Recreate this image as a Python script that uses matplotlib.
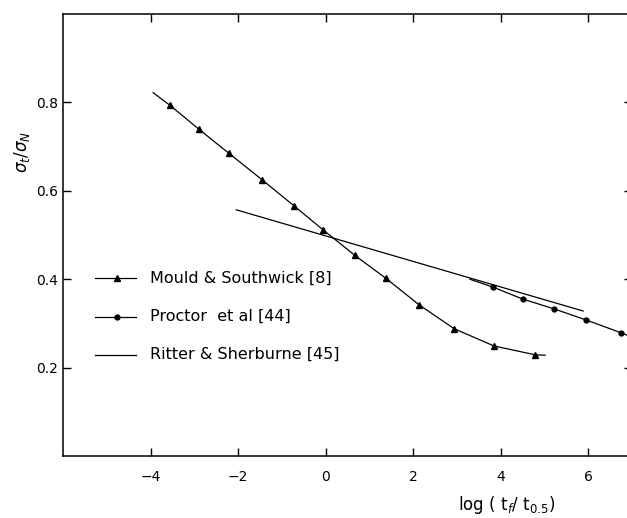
import matplotlib
matplotlib.use("Agg")
import matplotlib.pyplot as plt

# Mould & Southwick [8] (first/last entries are line ends without markers)
mould_x = [-3.94, -3.55, -2.89, -2.21, -1.45, -0.72, -0.06, 0.67, 1.38, 2.14, 2.94, 3.85, 4.79, 5.02]
mould_y = [0.822, 0.793, 0.739, 0.685, 0.625, 0.566, 0.512, 0.454, 0.402, 0.342, 0.288, 0.249, 0.229, 0.228]

# Proctor et al [44]
proctor_x = [3.30, 3.83, 4.51, 5.22, 5.95, 6.75, 6.95]
proctor_y = [0.400, 0.382, 0.355, 0.333, 0.308, 0.279, 0.271]

# Ritter & Sherburne [45]
ritter_x = [-2.04, 5.89]
ritter_y = [0.557, 0.328]

labels = ["Mould & Southwick [8]", "Proctor  et al [44]", "Ritter & Sherburne [45]"]
xticks = [-4, -2, 0, 2, 4, 6]
yticks = [0.2, 0.4, 0.6, 0.8]

plt.rcParams['font.family'] = ['DejaVu Sans']
fig = plt.figure(figsize=(6.27, 5.18), dpi=100)
ax = fig.add_axes([63/627, 1-456/518, (631.75-63)/627, (456-14)/518])
ax.set_xlim(-6, 7)
ax.set_ylim(0, 1.0)

lw = 0.9
ax.plot(mould_x, mould_y, color='black', lw=lw, marker='^', ms=5,
        markevery=slice(1, len(mould_x)-1))
ax.plot(proctor_x, proctor_y, color='black', lw=lw, marker='o', ms=3.5,
        markevery=slice(1, len(proctor_x)-1))
ax.plot(ritter_x, ritter_y, color='black', lw=lw)

ax.set_xticks(xticks)
ax.set_xticklabels([f"{t}".replace('-', '\u2212') for t in xticks])
ax.set_yticks(yticks)
ax.set_yticklabels([f"{t:.1f}" for t in yticks])
ax.tick_params(direction='in', length=6, width=1, labelsize=10, top=True, right=True)
ax.tick_params(axis='x', pad=10)
for s in ax.spines.values():
    s.set_linewidth(1.1)

# legend drawn in axes coordinates
leg_y = [0.403, 0.315, 0.229]
markers = ['^', 'o', None]
msz = [5, 3.5, 0]
for yy, lab, mk, ms in zip(leg_y, labels, markers, msz):
    ax.plot([0.0563, 0.128], [yy, yy], transform=ax.transAxes, color='black', lw=lw)
    if mk:
        ax.plot([0.095], [yy], transform=ax.transAxes, color='black', marker=mk, ms=ms)
    ax.text(0.153, yy, lab, transform=ax.transAxes, fontsize=11.5, va='center', ha='left')

fig.text(22/627, 1-152/518, r'$\sigma_t/\sigma_N$', rotation=90, fontsize=12,
         ha='center', va='center')
fig.text(507/627, 1-505/518, r'log ( t$_f$/ t$_{0.5}$)', fontsize=12,
         ha='center', va='center')

fig.savefig('out.png', dpi=100)
